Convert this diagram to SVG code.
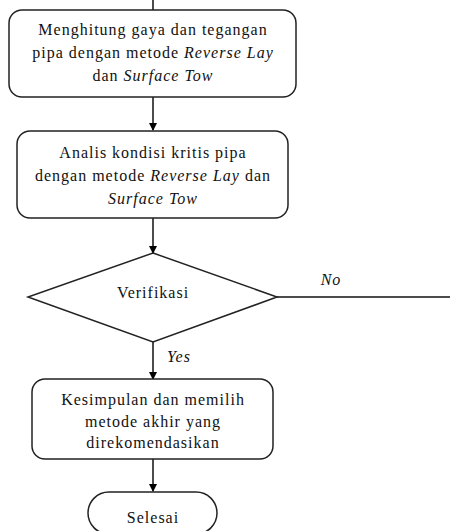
<svg xmlns="http://www.w3.org/2000/svg" width="450" height="531" viewBox="0 0 450 531">
<defs>
<marker id="arr" markerWidth="8" markerHeight="8" refX="7" refY="4" orient="auto" markerUnits="userSpaceOnUse">
<path d="M0,0 L8,4 L0,8 Z" fill="#000"/>
</marker>
<style>
.box{fill:#fff;stroke:#222;stroke-width:1.5}
.ln{fill:none;stroke:#111;stroke-width:1.5}
text{font-family:"Liberation Serif","Times New Roman",serif;font-size:16px;fill:#111;text-anchor:middle;letter-spacing:1px}
.i{font-style:italic}
</style>
</defs>
<rect width="450" height="531" fill="#fff"/>
<g id="connectors">
<line class="ln" x1="153" y1="0" x2="153" y2="10"/>
<line class="ln" x1="153" y1="97" x2="153" y2="130" marker-end="url(#arr)"/>
<line class="ln" x1="153" y1="218" x2="153" y2="253" marker-end="url(#arr)"/>
<line class="ln" x1="277" y1="297" x2="450" y2="297"/>
<line class="ln" x1="153" y1="342" x2="153" y2="379" marker-end="url(#arr)"/>
<line class="ln" x1="153" y1="459" x2="153" y2="491" marker-end="url(#arr)"/>
<text class="i" x="331" y="285">No</text>
<text class="i" x="179" y="362">Yes</text>
</g>
<g id="n1">
<rect class="box" x="9" y="10" width="287" height="87" rx="13"/>
<text x="153" y="35">Menghitung gaya dan tegangan</text>
<text x="153" y="58">pipa dengan metode <tspan class="i">Reverse Lay</tspan></text>
<text x="153" y="81">dan <tspan class="i">Surface Tow</tspan></text>
</g>
<g id="n2">
<rect class="box" x="17" y="131" width="271" height="87" rx="13"/>
<text x="153" y="158">Analis kondisi kritis pipa</text>
<text x="153" y="181">dengan metode <tspan class="i">Reverse Lay</tspan> dan</text>
<text x="153" y="204" class="i">Surface Tow</text>
</g>
<g id="n3">
<polygon class="box" points="153,253 277,297 153,342 28,297"/>
<text x="153" y="298">Verifikasi</text>
</g>
<g id="n4">
<rect class="box" x="32" y="379" width="241" height="80" rx="13"/>
<text x="153" y="405">Kesimpulan dan memilih</text>
<text x="153" y="427">metode akhir yang</text>
<text x="153" y="448">direkomendasikan</text>
</g>
<g id="n5">
<rect class="box" x="88" y="492" width="129" height="42" rx="21"/>
<text x="153" y="523">Selesai</text>
</g>
</svg>
